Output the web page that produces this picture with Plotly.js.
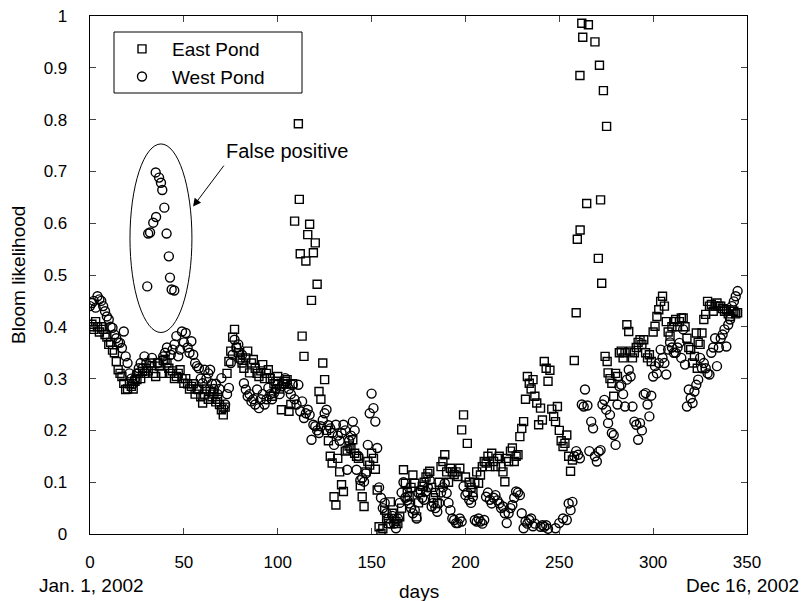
<!DOCTYPE html>
<html>
<head>
<meta charset="utf-8">
<script src="https://cdn.plot.ly/plotly-3.0.1.min.js"></script>
<style>html,body{margin:0;padding:0;background:#fff;}#chart{width:805px;height:601px;}</style>
</head>
<body>
<div id="chart"></div>
<script>
// East Pond (squares)
const eastDay = [
0,1,2,3,4,5,6,7,8,9,
10,11,12,13,14,15,16,17,18,19,
20,21,22,23,24,25,26,27,28,29,
30,31,32,33,34,35,36,37,38,39,
40,41,42,43,44,45,46,47,48,49,
50,51,52,53,54,55,56,57,58,59,
60,61,62,63,64,65,66,67,68,69,
70,71,72,73,74,75,76,77,78,79,
80,81,82,83,84,85,86,87,88,89,
90,91,92,93,94,95,96,97,98,99,
100,101,102,103,104,105,106,107,108,109,
111,111.5,112,113,114,115,116,117,118,119,
120,121,122,123,124,125,126,127,128,129,
130,131,132,133,134,135,136,137,138,139,
140,141,142,143,144,145,146,147,148,149,
150,151,152,153,154,155,156,157,158,159,
160,161,162,163,164,165,166,167,168,169,
170,171,172,173,174,175,176,177,178,179,
180,181,182,183,184,185,186,187,188,189,
190,191,192,193,194,195,196,197,198,199,
200,201,202,203,204,205,206,207,208,209,
210,211,212,213,214,215,216,217,218,219,
220,221,222,223,224,225,226,227,228,229,
230,231,232,233,234,235,236,237,238,239,
240,241,242,243,244,245,246,247,248,249,
250,251,252,253,254,255,256,257,258,259,
259.6,261,261.1,262,262.5,264.6,265.5,269,270.8,271.4,
272,272.6,273.5,274.4,275.2,275.5,276,277,278,279,
280,281,282,283,284,285,286,287,288,289,
290,291,292,293,294,295,296,297,298,299,
300,301,302,303,304,305,306,307,308,309,
310,311,312,313,314,315,316,317,318,319,
320,321,322,323,323.5,324,325,326,327,328,
329,330,331,332,333,334,335,336,337,338,
339,340,341,342,343,344,345
];
const eastVal = [
.40,.405,.395,.41,.40,.39,.40,.395,.385,.38,
.366,.37,.355,.35,.333,.317,.31,.304,.291,.279,
.28,.29,.285,.28,.295,.298,.31,.30,.314,.31,
.32,.315,.33,.325,.31,.304,.33,.324,.31,.335,
.337,.33,.32,.31,.315,.30,.304,.31,.317,.30,
.291,.30,.29,.28,.285,.29,.27,.28,.279,.265,
.253,.27,.28,.26,.275,.265,.27,.255,.26,.25,
.24,.23,.245,.31,.333,.353,.38,.395,.36,.35,
.34,.33,.32,.34,.353,.311,.33,.337,.32,.31,
.304,.315,.327,.30,.31,.317,.30,.266,.29,.295,
.304,.28,.24,.29,.295,.298,.237,.25,.29,.604,
.792,.646,.541,.382,.343,.527,.578,.598,.451,.543,
.562,.482,.275,.26,.33,.298,.20,.18,.15,.137,
.072,.056,.146,.12,.095,.082,.16,.162,.17,.165,
.182,.156,.15,.146,.093,.072,.053,.12,.14,.133,
.156,.146,.125,.085,.014,.001,.01,.046,.03,.02,
.062,.04,.03,.024,.02,.033,.05,.124,.098,.08,
.072,.09,.114,.098,.033,.06,.08,.092,.10,.11,
.117,.121,.09,.07,.08,.059,.10,.13,.14,.153,
.12,.10,.127,.12,.115,.12,.111,.127,.201,.23,
.11,.175,.10,.09,.08,.10,.12,.098,.114,.13,
.14,.137,.15,.13,.156,.14,.13,.146,.15,.13,
.12,.101,.146,.14,.16,.166,.14,.15,.153,.188,
.204,.217,.26,.304,.291,.28,.298,.266,.253,.211,
.243,.22,.333,.32,.295,.316,.241,.227,.217,.246,
.20,.18,.169,.175,.191,.15,.121,.143,.335,.427,
.569,.885,.587,.986,.959,.638,.983,.95,.532,.905,
.645,.484,.856,.343,.787,.333,.311,.30,.291,.266,
.31,.304,.35,.353,.34,.35,.404,.391,.353,.34,
.35,.36,.37,.375,.366,.375,.35,.34,.346,.333,
.39,.401,.42,.433,.449,.459,.44,.41,.39,.382,
.40,.41,.414,.40,.41,.417,.417,.40,.378,.36,
.356,.33,.343,.388,.32,.37,.366,.388,.414,.424,
.449,.44,.443,.43,.44,.446,.44,.44,.435,.43,
.433,.425,.42,.43,.43,.425,.427
];
// West Pond (circles)
const westDay = [
0,1,2,3,4,5,6,7,8,9,
10,11,12,13,14,15,16,17,18,19,
20,21,22,23,24,25,26,27,28,29,
30,30.5,31,32,33,33.7,35,35.2,36,36.8,
37.8,38.5,39,39.6,40,40.8,41,42,42.6,43,
43.5,44,44.9,45,46,47,48,49,50,51,
52,53,54,55,56,57,58,59,60,61,
62,63,64,65,66,67,68,69,70,71,
72,73,74,75,76,77,78,79,80,81,
82,83,84,85,86,87,88,89,90,91,
92,93,94,95,96,97,98,99,100,101,
102,103,104,105,106,107,108,109,110,111,
112,113,114,115,116,117,118,119,120,121,
122,123,124,125,126,127,128,129,130,131,
132,133,134,135,136,137,138,139,140,141,
142,143,144,145,146,147,148,149,150,151,
152,153,154,155,156,157,158,159,160,161,
162,163,164,165,166,167,168,169,170,171,
172,173,174,175,176,177,178,179,180,181,
182,183,184,185,186,187,188,189,190,191,
192,193,194,195,196,197,198,199,200,201,
202,203,204,205,206,207,208,209,210,211,
212,213,214,215,216,217,218,219,220,221,
222,223,224,225,226,227,228,229,230,231,
232,233,234,235,236,237,240,241,242,243,
244,248,250,252,254,255,256,257,258,259,
260,261,262,263,263.7,265,266,267,268,269,
270,271,272,273,274,275,276,277,278,279,
280,281,282,283,284,285,286,287,288,289,
290,291,292,293,294,295,296,297,298,299,
300,301,302,303,304,305,306,307,308,309,
310,311,312,313,314,315,316,317,318,319,
320,321,322,323,324,325,326,327,328,329,
330,331,332,333,334,335,336,337,338,339,
340,341,342,343,344,345
];
const westVal = [
.44,.446,.45,.437,.459,.453,.45,.44,.43,.42,
.414,.40,.398,.385,.378,.37,.369,.359,.391,.343,
.33,.31,.30,.29,.30,.31,.32,.33,.32,.343,
.33,.478,.58,.582,.34,.601,.698,.612,.33,.688,
.678,.664,.343,.63,.35,.58,.36,.536,.495,.346,
.472,.356,.47,.366,.382,.343,.356,.391,.37,.388,
.36,.35,.372,.346,.33,.324,.32,.30,.291,.317,
.30,.31,.317,.29,.28,.29,.27,.28,.301,.243,
.25,.27,.282,.33,.346,.375,.36,.366,.337,.346,
.291,.279,.266,.27,.256,.26,.25,.279,.243,.26,
.27,.25,.26,.282,.27,.26,.272,.28,.29,.27,
.285,.29,.301,.29,.28,.27,.288,.26,.25,.288,
.237,.256,.224,.233,.24,.23,.182,.211,.208,.20,
.195,.208,.22,.233,.24,.21,.204,.195,.172,.211,
.19,.18,.195,.211,.20,.124,.18,.19,.217,.20,
.124,.15,.104,.108,.101,.117,.172,.233,.271,.243,
.217,.166,.09,.07,.05,.06,.04,.03,.02,.035,
.02,.011,.03,.06,.08,.10,.07,.065,.059,.05,
.04,.046,.03,.079,.085,.07,.066,.082,.09,.104,
.053,.06,.05,.043,.06,.08,.09,.098,.079,.06,
.046,.03,.027,.021,.021,.03,.024,.092,.075,.08,
.066,.06,.072,.027,.024,.03,.024,.02,.027,.072,
.08,.066,.059,.07,.075,.065,.059,.05,.053,.04,
.021,.04,.05,.056,.07,.082,.08,.075,.04,.011,
.024,.02,.027,.03,.015,.02,.014,.017,.014,.017,
.01,.011,.021,.03,.027,.059,.046,.062,.15,.16,
.153,.146,.25,.246,.279,.248,.16,.217,.204,.15,
.14,.159,.162,.25,.259,.24,.214,.23,.195,.191,
.172,.25,.285,.288,.27,.246,.298,.317,.304,.246,
.217,.211,.182,.214,.20,.269,.272,.25,.227,.267,
.304,.324,.31,.33,.356,.34,.33,.308,.356,.37,
.36,.35,.35,.36,.369,.34,.395,.327,.246,.279,
.262,.253,.275,.288,.298,.34,.32,.33,.32,.31,
.308,.35,.36,.378,.324,.36,.378,.385,.395,.362,
.404,.414,.44,.449,.459,.469
];
const seriesNames = ["East Pond", "West Pond"];
const xTicks = [0,50,100,150,200,250,300,350];
const yTicks = [0,0.1,0.2,0.3,0.4,0.5,0.6,0.7,0.8,0.9,1];

const FONT = "Liberation Sans, Arial, sans-serif";
const traces = [
  {x: eastDay, y: eastVal, name: seriesNames[0], type: "scatter", mode: "markers",
   marker: {symbol: "square-open", size: 8, color: "#000", line: {width: 1.4, color: "#000"}}},
  {x: westDay, y: westVal, name: seriesNames[1], type: "scatter", mode: "markers",
   marker: {symbol: "circle-open", size: 9, color: "#000", line: {width: 1.4, color: "#000"}}}
];
const X0 = 90, X1 = 747, Y0 = 534, Y1 = 16;
const px = v => (v - X0) / (X1 - X0);
const py = v => (Y0 - v) / (Y0 - Y1);
const layout = {
  width: 805, height: 601,
  margin: {l: X0, r: 805 - X1, t: Y1, b: 601 - Y0, pad: 0},
  paper_bgcolor: "#fff", plot_bgcolor: "#fff",
  font: {family: FONT, color: "#000", size: 17},
  showlegend: true,
  legend: {x: px(112), y: py(30), xanchor: "left", yanchor: "top",
           bgcolor: "rgba(0,0,0,0)", borderwidth: 0, itemwidth: 50, tracegroupgap: 0,
           font: {family: FONT, size: 19, color: "#000"}},
  xaxis: {range: [0, 350], tickvals: xTicks, ticks: "inside", ticklen: 6, tickwidth: 1,
          showline: true, mirror: "ticks", linecolor: "#000", linewidth: 1.3,
          showgrid: false, zeroline: false, ticklabelstandoff: 12,
          tickfont: {family: FONT, size: 17, color: "#000"}},
  yaxis: {range: [0, 1], tickvals: yTicks, ticks: "inside", ticklen: 6, tickwidth: 1,
          showline: true, mirror: "ticks", linecolor: "#000", linewidth: 1.3,
          showgrid: false, zeroline: false, ticklabelstandoff: 18,
          tickfont: {family: FONT, size: 17, color: "#000"}},
  shapes: [
    {type: "rect", xref: "paper", yref: "paper", x0: px(114), x1: px(302), y0: py(93), y1: py(32),
     line: {color: "#000", width: 1}},
    {type: "circle", xref: "x", yref: "y", x0: 21.3, x1: 54.3, y0: 0.389, y1: 0.753,
     line: {color: "#000", width: 1}}
  ],
  annotations: [
    {xref: "x", yref: "y", x: 54.9, y: 0.632, ax: 71.9, ay: 0.714, axref: "x", ayref: "y",
     text: "", showarrow: true, arrowhead: 2, arrowsize: 1.6, arrowwidth: 1, arrowcolor: "#000"},
    {xref: "x", yref: "y", x: 71.5, y: 0.739, text: "False positive", showarrow: false,
     xanchor: "left", yanchor: "middle", font: {family: FONT, size: 20, color: "#000"}},
    {xref: "paper", yref: "paper", x: 0.5, y: py(591), text: "days", showarrow: false,
     xanchor: "center", yanchor: "middle", font: {family: FONT, size: 19, color: "#000"}},
    {xref: "paper", yref: "paper", x: px(91), y: py(585), text: "Jan. 1, 2002", showarrow: false,
     xanchor: "center", yanchor: "middle", font: {family: FONT, size: 19, color: "#000"}},
    {xref: "paper", yref: "paper", x: px(801), y: py(585), text: "Dec 16, 2002", showarrow: false,
     xanchor: "right", yanchor: "middle", font: {family: FONT, size: 19, color: "#000"}},
    {xref: "paper", yref: "paper", x: px(18), y: 0.5, text: "Bloom likelihood", showarrow: false,
     textangle: -90, xanchor: "center", yanchor: "middle", font: {family: FONT, size: 19, color: "#000"}}
  ]
};
Plotly.newPlot("chart", traces, layout, {displayModeBar: false, staticPlot: true});
</script>
</body>
</html>
